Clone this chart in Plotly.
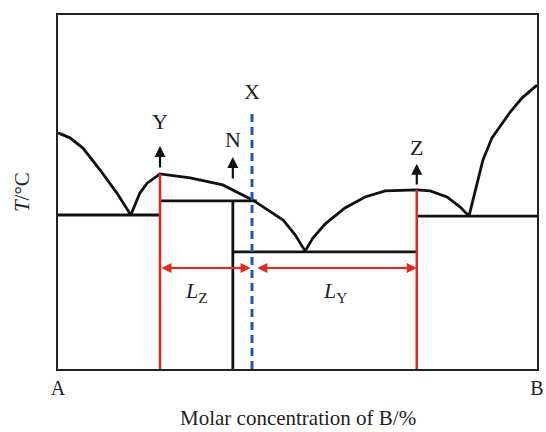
import plotly.graph_objects as go

# Composition axis: 0 = pure A, 100 = pure B. Temperature axis in arbitrary units.
# Liquidus, left branch (A side down to first eutectic)
liq_a_x = [0, 2.5, 5.2, 8.8, 12.3, 15.2]
liq_a_y = [66.7, 65.3, 62.4, 56.2, 49.7, 43.5]

# Liquidus of compound Y (first eutectic up to peak, then down to middle eutectic)
liq_y_x = [15.2, 17.1, 18.6, 21.3, 27.6, 34.4, 40.7, 47.0, 49.5, 51.6]
liq_y_y = [43.5, 49.7, 52.5, 55.1, 54.0, 52.0, 47.7, 42.1, 37.9, 33.3]

# Liquidus of compound Z (middle eutectic up to plateau, down to right eutectic)
liq_z_x = [51.6, 53.2, 55.8, 59.9, 64.1, 68.3, 74.9, 77.7, 81.2, 83.9, 85.8]
liq_z_y = [33.3, 37.0, 41.0, 45.5, 48.6, 50.3, 50.6, 50.3, 48.6, 45.8, 43.2]

# Liquidus, right branch (right eutectic up to pure B)
liq_b_x = [85.8, 87.5, 88.7, 90.6, 94.4, 96.9, 100]
liq_b_y = [43.2, 52.2, 59.0, 65.3, 72.6, 76.6, 80.2]

# Horizontal invariant lines: (x_start, x_end, y)
eutectic_left = (0, 21.3, 43.5)
peritectic = (21.3, 41.5, 47.5)
eutectic_mid = (36.5, 74.9, 33.1)
eutectic_right = (74.9, 100, 43.2)

# Composition of compound N (vertical line)
n_x = 36.5
n_top = 47.5
# Compositions Y and Z (red verticals) and alloy X (dashed)
y_x, y_top = 21.3, 55.1
z_x, z_top = 74.9, 50.6
x_x, x_top = 40.5, 73.2

# Lever-rule arrows
lever_y = 28.5
lz_span = (21.3, 40.2)
ly_span = (41.3, 74.9)

BLACK = "#111111"
RED = "#e8261c"
BLUE = "#2458b8"
TEXT = "#222222"
FONT = "Liberation Serif"

fig = go.Figure()

def line(xs, ys, color=BLACK, width=2.8, dash=None):
    fig.add_trace(go.Scatter(x=xs, y=ys, mode="lines", showlegend=False,
                             hoverinfo="skip",
                             line=dict(color=color, width=width, dash=dash)))

for xs, ys in [(liq_a_x, liq_a_y), (liq_y_x, liq_y_y),
               (liq_z_x, liq_z_y), (liq_b_x, liq_b_y)]:
    line(xs, ys)

for x0, x1, yy in [eutectic_left, peritectic, eutectic_mid, eutectic_right]:
    line([x0, x1], [yy, yy])

line([n_x, n_x], [0, n_top])
line([y_x, y_x], [0, y_top], color=RED, width=2.5)
line([z_x, z_x], [0, z_top], color=RED, width=2.5)
line([x_x, x_x], [0, x_top], color=BLUE, width=3, dash="8px,5px")

annotations = []

# Upward arrows above Y, N, Z
for ax_x, tail, head in [(y_x, 56.5, 63.0), (n_x, 53.4, 59.9), (z_x, 51.7, 58.0)]:
    annotations.append(dict(x=ax_x, y=head, ax=ax_x, ay=tail, xref="x", yref="y",
                            axref="x", ayref="y", text="", showarrow=True,
                            arrowhead=2, arrowsize=1.0, arrowwidth=2.2,
                            arrowcolor=BLACK))

# Double-headed lever arrows
for x0, x1 in [lz_span, ly_span]:
    annotations.append(dict(x=x1, y=lever_y, ax=x0, ay=lever_y, xref="x", yref="y",
                            axref="x", ayref="y", text="", showarrow=True,
                            arrowhead=2, startarrowhead=2, arrowside="end+start",
                            arrowsize=1.0, startarrowsize=1.0, arrowwidth=2,
                            arrowcolor=RED))

labels = [
    ("Y", y_x, 69.8), ("N", n_x, 64.7), ("X", x_x, 78.5), ("Z", z_x, 62.7),
    ("<i>L</i><sub>Z</sub>", 29.0, 21.8), ("<i>L</i><sub>Y</sub>", 57.8, 21.8),
]
for txt, lx, ly in labels:
    annotations.append(dict(x=lx, y=ly, xref="x", yref="y", text=txt,
                            xanchor="center", yanchor="middle",
                            showarrow=False, font=dict(family=FONT, size=22, color=TEXT)))

# Axis titles
annotations.append(dict(x=0.5, y=-0.178, xref="paper", yref="paper",
                        xanchor="center", yanchor="bottom",
                        text="Molar concentration of B/%", showarrow=False,
                        font=dict(family=FONT, size=21, color=TEXT)))
annotations.append(dict(x=-0.075, y=0.5, xref="paper", yref="paper",
                        xanchor="center", yanchor="middle",
                        text="<i>T</i>/°C", textangle=-90, showarrow=False,
                        font=dict(family=FONT, size=21, color=TEXT)))

fig.update_layout(
    width=546, height=432,
    margin=dict(l=58, r=9, t=15, b=63, autoexpand=False),
    plot_bgcolor="white", paper_bgcolor="white",
    annotations=annotations,
    xaxis=dict(range=[0, 100], showgrid=False, zeroline=False, automargin=False,
               tickvals=[0, 100], ticktext=["A", "B"], ticks="",
               tickfont=dict(family=FONT, size=20, color=TEXT),
               showline=True, linecolor="#222", linewidth=2, mirror=True),
    yaxis=dict(range=[0, 100], showgrid=False, zeroline=False, automargin=False,
               showticklabels=False, ticks="",
               showline=True, linecolor="#222", linewidth=2, mirror=True),
)

fig.write_html("out.html")
